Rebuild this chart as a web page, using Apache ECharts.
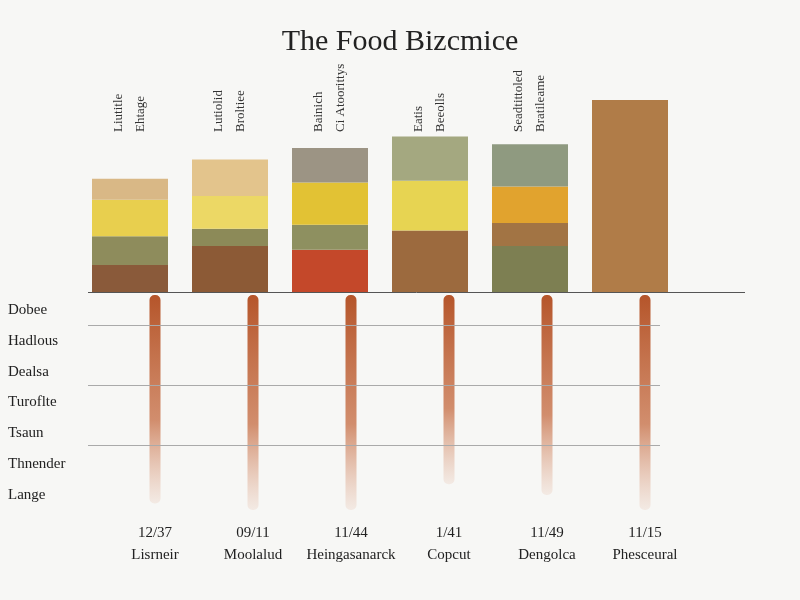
<!DOCTYPE html>
<html><head><meta charset="utf-8">
<script src="https://cdn.jsdelivr.net/npm/echarts@6/dist/echarts.min.js"></script>
<style>html,body{margin:0;background:#f7f7f5}#c{width:800px;height:600px}</style>
</head><body><div id="c"></div>
<script>
const topCats = ['Liutitle\nEhtage','Lutiolid\nBroltiee','Bainich\nCi Atoorittys','Eatis\nBeeolls','Seadtittoled\nBratileame','Nuts'];
const layer1 = [14, 24, 22, 32, 24, 100];
const layer2 = [15, 9, 13, 0, 12, 0];
const layer3 = [19, 17, 22, 26, 19, 0];
const layer4 = [11, 19, 18, 23, 22, 0];
const c1 = ['#8a5a3a','#8c5a36','#c4482a','#9c6a3e','#7d7f52','#b07c48'];
const c2 = ['#8e8c5c','#8c8a58','#8e9060','#fff','#a27444','#fff'];
const c3 = ['#e8cf4e','#ecd865','#e2c234','#e7d452','#e1a32e','#fff'];
const c4 = ['#d9b886','#e3c48c','#9c9484','#a4a880','#8f9a80','#fff'];
const bottomCats = ['12/37\nLisrneir','09/11\nMoolalud','11/44\nHeingasanarck','1/41\nCopcut','11/49\nDengolca','11/15\nPhesceural'];
const rowLabels = ['Dobee','Hadlous','Dealsa','Turoflte','Tsaun','Thnender','Lange'];
const stripEnds = [97, 100, 100, 88, 93, 100];
const gridLines = [14, 42, 70];

function mk(vals, cols){ return vals.map((v,i)=>({value:v, itemStyle:{color:cols[i]}})); }
const chart = echarts.init(document.getElementById('c'));
const font = 'Liberation Serif';
chart.setOption({
  backgroundColor:'#f7f7f5',
  title:{text:'The Food Bizcmice', left:'center', top:22, textStyle:{fontFamily:font, fontWeight:'normal', fontSize:30, color:'#222'}},
  grid:[{left:80,right:120,top:100,bottom:308},{left:106,right:106,top:295,bottom:90}],
  xAxis:[
    {gridIndex:0,type:'category',data:topCats,axisLine:{show:false},axisTick:{show:false},axisLabel:{show:false}},
    {gridIndex:0,type:'category',data:topCats,position:'top',axisLine:{show:false},axisTick:{show:false},offset:-32,
     axisLabel:{rotate:-90,fontFamily:font,fontSize:13,color:'#333',margin:0,lineHeight:22,formatter:(v,i)=>i===5?'':v}},
    {gridIndex:1,type:'category',data:bottomCats,axisLine:{show:false},axisTick:{show:false},
     axisLabel:{interval:0,fontFamily:font,fontSize:15,color:'#222',lineHeight:22,margin:12}}
  ],
  yAxis:[
    {gridIndex:0,type:'value',min:0,max:100,show:false},
    {gridIndex:1,type:'value',min:0,max:100,inverse:true,show:false},
    {gridIndex:1,type:'category',data:rowLabels,inverse:true,position:'left',offset:18,axisLine:{show:false},axisTick:{show:false},splitLine:{show:false},
     axisLabel:{fontFamily:font,fontSize:15,color:'#222',align:'left',margin:80}}
  ],
  series:[
    {type:'bar',stack:'s',xAxisIndex:0,yAxisIndex:0,barWidth:76,data:mk(layer1,c1),
     markLine:{silent:true,symbol:'none',label:{show:false},lineStyle:{color:'#555',type:'solid',width:1},data:[[{coord:[0,0],x:88},{x:745,coord:[5,0]}]]}},
    {type:'bar',stack:'s',xAxisIndex:0,yAxisIndex:0,data:mk(layer2,c2)},
    {type:'bar',stack:'s',xAxisIndex:0,yAxisIndex:0,data:mk(layer3,c3)},
    {type:'bar',stack:'s',xAxisIndex:0,yAxisIndex:0,data:mk(layer4,c4)},
    {type:'bar',xAxisIndex:1,yAxisIndex:0,data:[0,0,0,0,0,0],silent:true},
    {type:'bar',xAxisIndex:2,yAxisIndex:1,barWidth:11,data:stripEnds,
     itemStyle:{color:new echarts.graphic.LinearGradient(0,0,0,1,[{offset:0,color:'#b5552a'},{offset:0.6,color:'rgba(200,115,75,0.8)'},{offset:1,color:'rgba(220,160,130,0.15)'}]),borderRadius:5},
     markLine:{silent:true,symbol:'none',label:{show:false},lineStyle:{color:'#aaa',type:'solid',width:1},
       data:gridLines.map(v=>[{x:88,yAxis:v},{x:660,yAxis:v}])}}
  ]
});
</script></body></html>
